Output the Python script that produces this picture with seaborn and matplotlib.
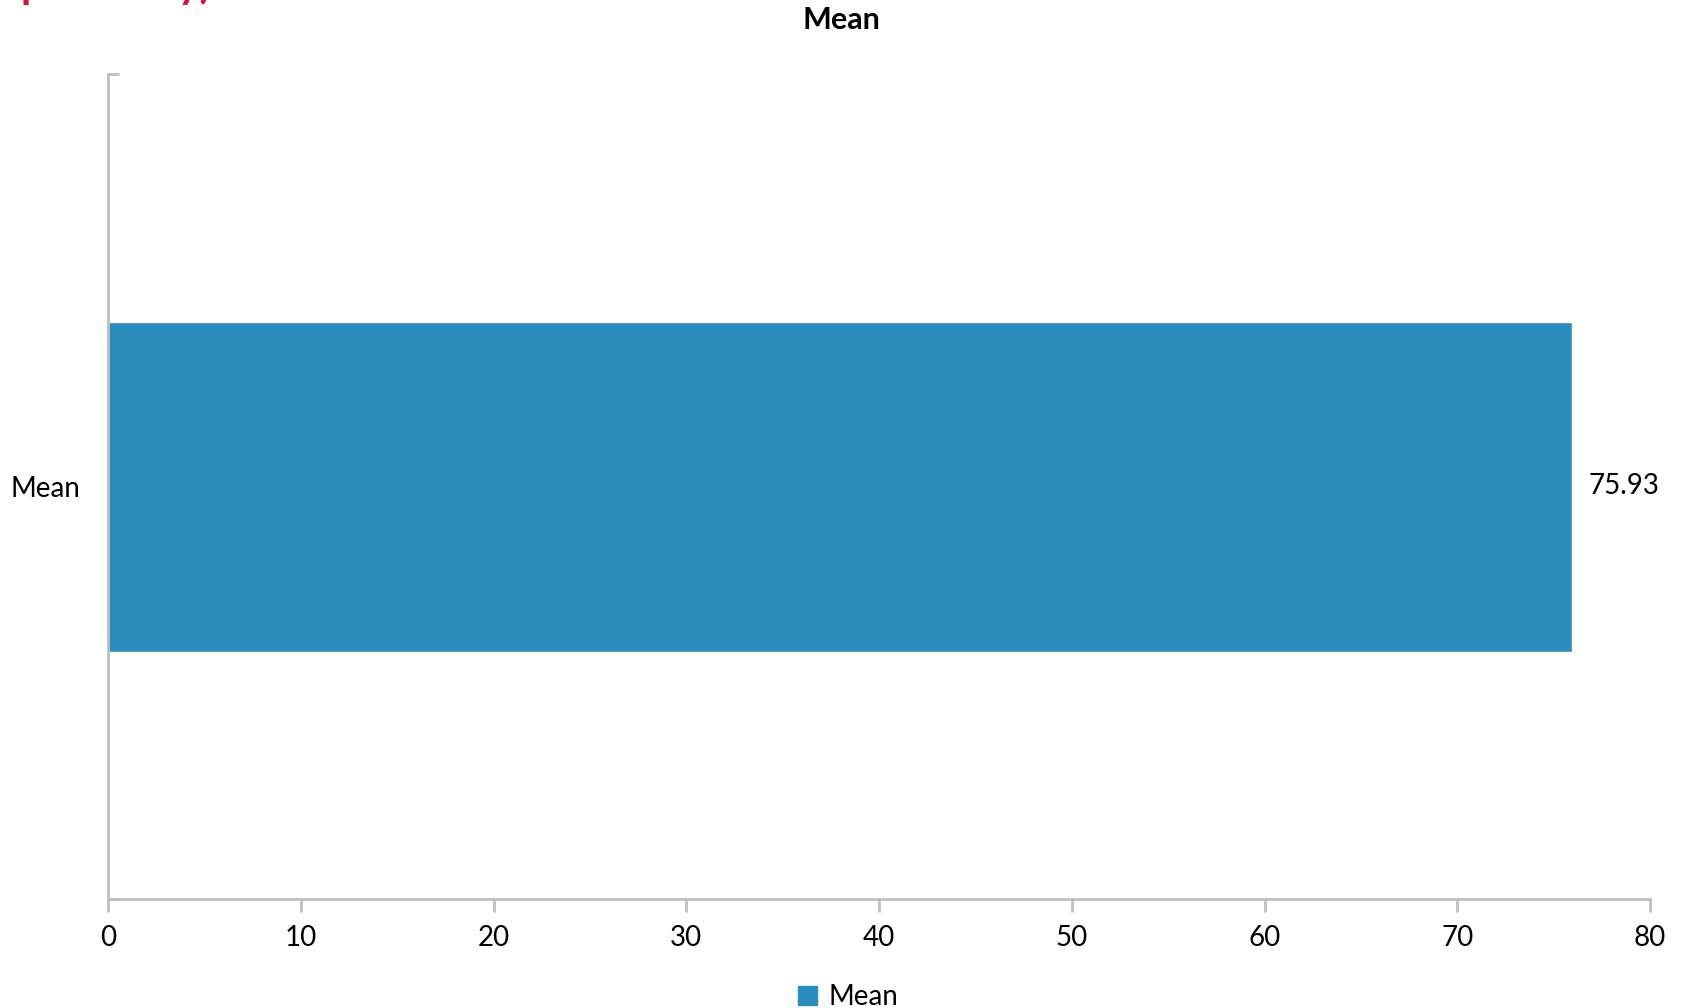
import matplotlib
matplotlib.use("Agg")
import matplotlib.pyplot as plt
import seaborn as sns
import pandas as pd

categories = ["Mean"]
values = [75.93]
series_name = "Mean"
x_ticks = [0, 10, 20, 30, 40, 50, 60, 70, 80]

BAR_COLOR = "#2B8CBE"
AXIS_GRAY = "#BFBFBF"

sns.set_style("white")
plt.rcParams["font.family"] = ["Lato", "DejaVu Sans"]
plt.rcParams["text.color"] = "black"
plt.rcParams["xtick.color"] = "black"
plt.rcParams["ytick.color"] = "black"

df = pd.DataFrame({"category": categories, "value": values})

fig = plt.figure(figsize=(16.82, 10.08), dpi=100)
ax = fig.add_axes([108 / 1682, 1 - 899 / 1008, (1650 - 108) / 1682, (899 - 74) / 1008])

sns.barplot(data=df, x="value", y="category", orient="h", color=BAR_COLOR,
            width=0.4, saturation=1, ax=ax, label=series_name, legend=False)

ax.set_xlim(0, 80)
ax.set_ylim(0.5, -0.5)
ax.set_xticks(x_ticks)
ax.set_xticklabels([str(t) for t in x_ticks])
ax.set_xlabel("")
ax.set_ylabel("")

# category axis: label at the centre, tick marks on the category boundaries
ax.set_yticks([-0.5, 0.5])
ax.set_yticklabels([])
ax.set_yticks([0], minor=True)
ax.set_yticklabels(categories, minor=True)
ax.tick_params(axis="y", which="minor", left=True, length=0, pad=20, labelsize=20,
               labelcolor="black")
ax.tick_params(axis="y", which="major", left=True, direction="in", length=8, width=2,
               color=AXIS_GRAY)
ax.tick_params(axis="x", bottom=True, direction="out", length=9, width=2, color=AXIS_GRAY,
               labelsize=20, labelcolor="black", pad=10)

for side in ["top", "right"]:
    ax.spines[side].set_visible(False)
for side in ["left", "bottom"]:
    ax.spines[side].set_color(AXIS_GRAY)
    ax.spines[side].set_linewidth(2)

for cont in ax.containers:
    ax.bar_label(cont, labels=[f"{v:.2f}" for v in values], padding=12, fontsize=20,
                 color="black")

fig.text(0.5, 1 - 20 / 1008, "Mean", ha="center", va="center", fontsize=22,
         fontweight="bold", color="black")

# heading above the chart, clipped by the top edge of the image
fig.text(0.012, 1 + 2 / 1008, "pre-study)", ha="left", va="baseline", fontsize=30,
         fontweight="bold", color="#D6103C")

handles = [plt.Rectangle((0, 0), 1, 1, color=BAR_COLOR)]
fig.legend(handles, [series_name], loc="center", bbox_to_anchor=(848 / 1682, 1 - 997 / 1008),
           frameon=False, fontsize=20, handlelength=0.7, handleheight=0.7,
           handletextpad=0.4, labelcolor="black")

fig.savefig("out.png", dpi=100, facecolor="white")
